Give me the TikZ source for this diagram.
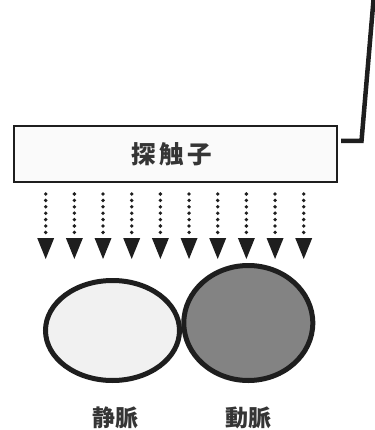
\documentclass[tikz,border=0pt]{standalone}
\usepackage{fontspec}
\newfontfamily\cjk{Noto Sans CJK JP}
\usetikzlibrary{arrows.meta,shapes.geometric}
\definecolor{ink}{HTML}{1E1E1E}
\definecolor{veinfill}{HTML}{F1F1F1}
\definecolor{arteryfill}{HTML}{838383}
\definecolor{probefill}{HTML}{FAFAFA}
\tikzset{
  probebox/.style={draw=ink, line width=2.5pt, fill=probefill, minimum width=323pt, minimum height=56pt, inner sep=0pt},
  beam/.style={draw=ink, line width=3.8pt, dash pattern=on 0pt off 6.4pt, line cap=round,
    -{Triangle[width=17pt,length=21pt,fill=ink,line width=0pt]}},
  vessel/.style={ellipse, draw=ink, line width=5pt, inner sep=0pt},
  cable/.style={draw=ink, line width=4.5pt, line join=miter},
  lbl/.style={font=\cjk\bfseries\fontsize{24.5}{26}\selectfont, text=ink!90!white, inner sep=0pt}
}
\begin{document}
\begin{tikzpicture}[x=1pt,y=-1pt]
\useasboundingbox (0,0) rectangle (374,430);
\node[probebox] (probe) at (175.5,154) {};
\node[lbl] (probelabel) at (171.5,154.5) {探\hspace{3.5pt}触\hspace{3.5pt}子};
% cable
\coordinate (c0) at (341,141);
\coordinate (c1) at (361.5,141);
\coordinate (c2) at (373.5,0);
\draw[cable] (c0) -- (c1) -- (c2);
% beams
\foreach \i [count=\n] in {0,...,9}{
  \coordinate (s\n) at ({45.7+28.67*\i},194);
  \coordinate (e\n) at ({45.7+28.67*\i},259);
  \draw[beam] (s\n) -- (e\n);
}
% vessels
\node[vessel, fill=veinfill, minimum width=134pt, minimum height=100pt] (vein) at (112.5,330.5) {};
\node[vessel, fill=arteryfill, minimum width=129pt, minimum height=115pt] (artery) at (248.3,323) {};
\node[lbl, font=\cjk\bfseries\fontsize{23}{24}\selectfont] (veinlabel) at (115,418) {静脈};
\node[lbl, font=\cjk\bfseries\fontsize{23}{24}\selectfont] (arterylabel) at (248,418) {動脈};
\end{tikzpicture}
\end{document}
